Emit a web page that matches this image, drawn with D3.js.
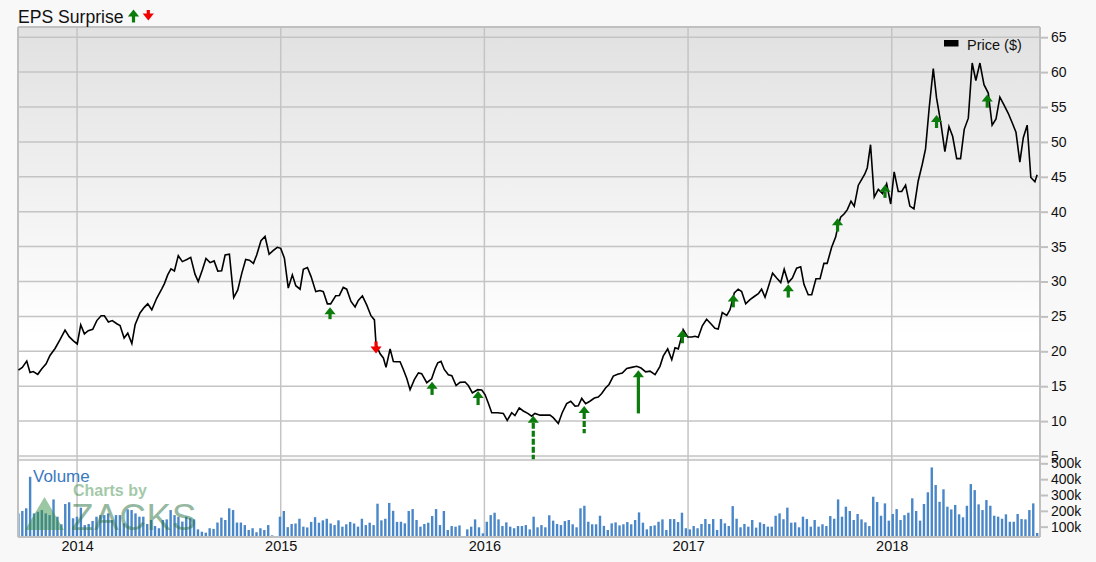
<!DOCTYPE html>
<html><head><meta charset="utf-8">
<script src="https://cdn.jsdelivr.net/npm/d3@7"></script>
<style>
body{margin:0;background:#f8f8f8;}
svg{display:block;font-family:"Liberation Sans",Arial,sans-serif;}
</style>
</head><body>
<svg id="chart" width="1096" height="562"></svg>
<script>
// ---------- DATA ----------
const priceDates = [2013.712,2013.731,2013.753,2013.769,2013.785,2013.807,2013.827,2013.848,2013.867,2013.892,2013.917,2013.941,2013.961,2013.982,2014.001,2014.018,2014.036,2014.055,2014.077,2014.097,2014.118,2014.134,2014.154,2014.173,2014.195,2014.211,2014.231,2014.249,2014.269,2014.285,2014.309,2014.330,2014.347,2014.367,2014.391,2014.416,2014.429,2014.445,2014.461,2014.478,2014.497,2014.517,2014.539,2014.558,2014.579,2014.595,2014.615,2014.633,2014.653,2014.673,2014.691,2014.710,2014.727,2014.748,2014.769,2014.789,2014.809,2014.828,2014.846,2014.866,2014.882,2014.903,2014.923,2014.943,2014.964,2014.983,2015.000,2015.018,2015.037,2015.057,2015.074,2015.095,2015.111,2015.131,2015.149,2015.172,2015.193,2015.209,2015.229,2015.245,2015.270,2015.288,2015.307,2015.324,2015.345,2015.365,2015.381,2015.401,2015.422,2015.443,2015.460,2015.468,2015.488,2015.504,2015.517,2015.537,2015.553,2015.565,2015.586,2015.602,2015.619,2015.635,2015.656,2015.676,2015.692,2015.717,2015.741,2015.758,2015.771,2015.787,2015.803,2015.823,2015.840,2015.861,2015.880,2015.905,2015.921,2015.941,2015.967,2015.987,2016.003,2016.019,2016.036,2016.065,2016.093,2016.112,2016.134,2016.150,2016.171,2016.191,2016.213,2016.232,2016.248,2016.273,2016.322,2016.338,2016.363,2016.382,2016.404,2016.424,2016.445,2016.461,2016.478,2016.497,2016.518,2016.540,2016.559,2016.576,2016.595,2016.612,2016.633,2016.654,2016.677,2016.699,2016.723,2016.748,2016.769,2016.792,2016.813,2016.838,2016.862,2016.878,2016.900,2016.920,2016.936,2016.952,2016.964,2016.976,2016.998,2017.018,2017.034,2017.050,2017.070,2017.091,2017.112,2017.132,2017.148,2017.168,2017.190,2017.206,2017.227,2017.246,2017.263,2017.283,2017.304,2017.325,2017.345,2017.361,2017.378,2017.394,2017.415,2017.435,2017.455,2017.472,2017.492,2017.512,2017.533,2017.553,2017.569,2017.590,2017.607,2017.628,2017.648,2017.667,2017.683,2017.705,2017.725,2017.734,2017.749,2017.767,2017.782,2017.800,2017.816,2017.836,2017.852,2017.868,2017.880,2017.896,2017.914,2017.934,2017.955,2017.975,2017.995,2018.012,2018.032,2018.049,2018.068,2018.089,2018.109,2018.130,2018.150,2018.166,2018.184,2018.204,2018.220,2018.242,2018.261,2018.281,2018.299,2018.319,2018.338,2018.356,2018.376,2018.395,2018.413,2018.433,2018.453,2018.474,2018.493,2018.512,2018.531,2018.551,2018.572,2018.592,2018.610,2018.629,2018.646,2018.665,2018.683,2018.703,2018.714];
const priceValues = [17.3,17.7,18.6,16.95,17.1,16.7,17.5,18.2,19.4,20.4,21.7,23.05,22.1,21.5,21.05,23.8,22.5,22.95,23.15,24.4,25.1,25.1,24.2,24.4,23.95,23.7,21.9,22.6,21.1,23.8,25.5,26.3,26.8,25.95,27.6,28.95,29.7,30.95,31.8,31.5,33.7,32.85,33.15,33.45,31.05,30.0,31.65,33.3,32.7,32.95,31.5,31.55,33.8,33.9,27.7,28.8,31.2,33.15,33.05,32.6,33.8,35.85,36.45,33.9,34.45,34.9,34.75,33.35,29.05,30.95,29.4,28.9,31.75,32.0,30.7,28.55,28.7,28.55,26.8,26.8,27.95,28.0,29.15,28.9,27.15,26.35,27.3,27.95,26.65,25.1,24.5,20.95,19.65,19.05,17.7,20.35,18.55,18.5,18.5,17.4,16.1,14.5,15.95,16.9,16.8,15.5,16.05,17.5,18.35,18.55,17.4,16.65,16.5,15.1,15.55,15.6,15.1,14.05,14.5,14.45,13.8,12.6,11.2,11.2,11.1,10.1,11.2,10.8,11.9,11.45,11.1,10.7,11.1,10.85,10.85,10.5,9.65,11.2,12.5,12.85,12.15,12.2,13.25,12.5,12.85,13.3,13.45,13.95,14.75,15.25,16.45,16.7,16.9,17.55,17.7,17.85,17.6,17.05,17.15,16.65,17.85,19.3,20.35,18.8,20.5,20.35,21.65,23.1,22.05,22.05,22.15,22.0,23.65,24.6,23.95,23.3,23.2,25.55,25.15,25.95,28.35,28.9,28.55,26.8,27.4,27.85,28.25,28.9,27.75,29.2,31.2,30.5,29.85,31.75,29.85,30.5,31.9,32.1,29.6,28.1,28.1,30.4,30.4,32.6,32.6,34.9,36.4,37.7,39.2,39.7,40.3,41.5,40.8,43.8,44.6,45.4,46.3,49.6,42.1,43.2,42.6,44.0,41.1,45.7,42.9,42.9,43.8,40.8,40.4,44.4,46.8,49.0,54.9,60.5,56.3,52.5,48.6,52.2,50.8,47.6,47.6,51.8,53.4,61.3,58.8,61.3,58.2,57.0,52.4,53.3,56.4,55.3,54.1,52.7,51.4,47.1,50.6,52.4,44.9,44.3,45.3];

const surpriseDates = [2015.242,2015.468,2015.743,2015.969,2016.240,2016.490,2016.756,2016.972,2017.222,2017.492,2017.734,2017.967,2018.220,2018.469];
const surpriseTips  = [26.3,19.7,15.65,14.3,10.75,12.15,17.3,23.05,28.15,29.6,39.05,43.85,53.85,56.8];
const surpriseTails = [24.6,21.4,13.75,12.3,4.55,8.25,11.1,21.15,26.3,27.7,37.15,41.9,51.95,54.9];
const surpriseKinds = ["beat","miss","beat","beat","beat","beat","beat","beat","beat","beat","beat","beat","beat","beat"];
const surpriseDashed = [false,false,false,false,true,true,false,false,false,false,false,true,true,false];

// weekly volume, first week 2013.712
const volumeStart = 2013.712;
const volumeValues = [
184000,199000,216000,415000,184000,194000,205000,184000,173000,272000,
163000,115000,243000,254000,153000,163000,220000,110000,117000,136000,
163000,173000,173000,184000,142000,173000,173000,121000,209000,205000,
184000,163000,163000,117000,142000,104000,90000,142000,146000,205000,
173000,163000,132000,163000,153000,146000,83000,68000,62000,90000,
86000,126000,157000,142000,216000,205000,126000,126000,110000,79000,
90000,65000,90000,79000,110000,45000,40000,163000,199000,97000,
117000,120000,150000,100000,95000,130000,160000,125000,140000,150000,
120000,110000,140000,100000,115000,130000,120000,100000,150000,110000,
125000,110000,245000,140000,150000,250000,200000,130000,131000,121000,
199000,211000,142000,100000,117000,125000,167000,211000,110000,199000,
79000,104000,100000,108000,41000,83000,100000,146000,96000,58000,
131000,173000,188000,146000,104000,127000,100000,90000,104000,104000,
110000,83000,163000,96000,110000,96000,172000,138000,117000,110000,
135000,142000,115000,96000,216000,232000,131000,115000,115000,169000,
105000,79000,121000,127000,108000,115000,129000,115000,142000,190000,
125000,83000,104000,108000,131000,146000,79000,148000,148000,129000,
188000,90000,83000,104000,90000,117000,148000,117000,148000,79000,
148000,121000,104000,230000,150000,96000,117000,100000,142000,94000,
127000,117000,100000,100000,169000,184000,147000,220000,125000,127000,
96000,163000,148000,100000,142000,100000,115000,104000,167000,150000,
272000,163000,226000,199000,142000,180000,146000,127000,104000,289000,
256000,169000,247000,138000,180000,211000,142000,173000,188000,279000,
199000,138000,243000,317000,474000,363000,257000,336000,226000,209000,
237000,178000,159000,232000,369000,331000,241000,205000,268000,232000,
169000,163000,150000,178000,131000,131000,180000,148000,146000,205000,
247000,60000];
const WEEK = 7 / 365.25;
const volumeDates = volumeValues.map((v,i)=>volumeStart + i*WEEK);

const yearTicks = [2014,2015,2016,2017,2018];
const priceTicks = [5,10,15,20,25,30,35,40,45,50,55,60,65];
const volumeTicks = [100000,200000,300000,400000,500000];
const volumeTickLabels = ["100k","200k","300k","400k","500k"];

// ---------- LAYOUT ----------
const L = 18, R = 1040, PT = 27, PB = 456, VT = 460, VB = 537;
const GRID = "#c4c4c4";
const svg = d3.select("#chart");

const x = d3.scaleLinear().domain([2013.710, 2018.728]).range([L, R]);
const yP = d3.scaleLinear().domain([5, 65]).range([PB, 37.2]);
const yV = d3.scaleLinear().domain([34700, 521000]).range([VB, VT]).clamp(true);

const defs = svg.append("defs");
const grad = defs.append("linearGradient").attr("id","bg").attr("x1",0).attr("y1",0).attr("x2",0).attr("y2",1);
grad.append("stop").attr("offset","0").attr("stop-color","#e1e1e1");
grad.append("stop").attr("offset","0.72").attr("stop-color","#ffffff");
grad.append("stop").attr("offset","1").attr("stop-color","#ffffff");

svg.append("rect").attr("x",L).attr("y",PT).attr("width",R-L).attr("height",PB-PT).attr("fill","url(#bg)");
svg.append("rect").attr("x",L).attr("y",VT).attr("width",R-L).attr("height",VB-VT).attr("fill","#ffffff");

// horizontal price grid
svg.append("g").selectAll("line").data(priceTicks).join("line")
  .attr("x1",L).attr("x2",R).attr("y1",d=>yP(d)).attr("y2",d=>yP(d))
  .attr("stroke",GRID).attr("stroke-width",1.5);

// vertical year grid
svg.append("g").selectAll("line").data(yearTicks).join("line")
  .attr("x1",d=>x(d)).attr("x2",d=>x(d)).attr("y1",PT).attr("y2",VB)
  .attr("stroke",GRID).attr("stroke-width",1.5);

// volume bars
svg.append("g").selectAll("rect").data(volumeValues).join("rect")
  .attr("x",(d,i)=>x(volumeDates[i])-1.2).attr("width",2.4)
  .attr("y",d=>yV(d)).attr("height",d=>VB-yV(d))
  .attr("fill","#4a87c9");

// frame
const frame = svg.append("g").attr("fill","none").attr("stroke","#c0c0c0").attr("stroke-width",2);
frame.append("line").attr("x1",L).attr("x2",R).attr("y1",PT).attr("y2",PT);
frame.append("line").attr("x1",L).attr("x2",L).attr("y1",PT).attr("y2",VB);
frame.append("line").attr("x1",R).attr("x2",R).attr("y1",PT).attr("y2",VB);
frame.append("line").attr("x1",L).attr("x2",R).attr("y1",VT).attr("y2",VT).attr("stroke-width",1.5);
frame.append("line").attr("x1",L).attr("x2",R).attr("y1",VB).attr("y2",VB);

// watermark
const wm = svg.append("g").attr("opacity",0.5);
wm.append("path").attr("d", d3.line()([[25,530],[44.5,497],[64,530]]) + "Z").attr("fill","#3a9048");
wm.append("text").attr("x",73).attr("y",496).attr("font-size",16).attr("font-weight","bold").attr("fill","#4a9456").text("Charts by");
wm.append("text").attr("x",71).attr("y",530).attr("font-size",37).attr("fill","#2d7445").attr("letter-spacing",0.5).text("ZACKS");

svg.append("text").attr("x",33).attr("y",482).attr("font-size",17).attr("fill","#3a78bf").text("Volume");

// price line
const pts = priceDates.map((d,i)=>[d, priceValues[i]]);
svg.append("path").datum(pts)
  .attr("d", d3.line().x(d=>x(d[0])).y(d=>yP(d[1])))
  .attr("fill","none").attr("stroke","#000").attr("stroke-width",1.6).attr("stroke-linejoin","miter");

// surprise arrows
function arrow(g, cx, tipY, tailY, color, dashed){
  const dir = tailY > tipY ? 1 : -1;
  const headH = 7, half = 5.6;
  const baseY = tipY + dir*headH;
  const shaft = g.append("line").attr("x1",cx).attr("x2",cx).attr("y1",baseY-dir*0.5).attr("y2",tailY)
      .attr("stroke",color).attr("stroke-width",3.2);
  if (dashed) shaft.attr("y1",baseY).attr("stroke-dasharray","6,2");
  g.append("path").attr("d", d3.line()([[cx,tipY],[cx+half,baseY],[cx-half,baseY]])+"Z").attr("fill",color);
}
const ag = svg.append("g");
surpriseDates.forEach((d,i)=>{
  const col = surpriseKinds[i]==="beat" ? "#0b7b0b" : "#f20000";
  arrow(ag, x(d), yP(surpriseTips[i]), yP(surpriseTails[i]), col, surpriseDashed[i]);
});

// axes
const axP = svg.append("g").attr("transform",`translate(${R},0)`)
  .call(d3.axisRight(yP).tickValues(priceTicks).tickSize(8).tickPadding(3));
const axV = svg.append("g").attr("transform",`translate(${R},0)`)
  .call(d3.axisRight(yV).tickValues(volumeTicks).tickSize(8).tickPadding(3).tickFormat((d,i)=>volumeTickLabels[i]));
const axX = svg.append("g").attr("transform",`translate(0,${VB})`)
  .call(d3.axisBottom(x).tickValues(yearTicks).tickSize(0).tickPadding(4).tickFormat(d3.format("d")));
[axP,axV,axX].forEach(a=>{
  a.select(".domain").remove();
  a.selectAll(".tick line").attr("stroke","#c0c0c0").attr("stroke-width",2);
  a.selectAll("text").attr("fill","#111").attr("font-size",14).attr("font-family","'Liberation Sans',Arial,sans-serif");
});
axX.selectAll("text").attr("font-size",14.5);

// legend
svg.append("rect").attr("x",944).attr("y",40).attr("width",14.5).attr("height",6.5).attr("fill","#000");
svg.append("text").attr("x",967).attr("y",49.5).attr("font-size",14.5).attr("fill","#111").text("Price ($)");

// title
svg.append("text").attr("x",18).attr("y",22.5).attr("font-size",17.6).attr("fill","#111").text("EPS Surprise");
arrow(svg.append("g"), 133.5, 9.5, 22.5, "#0b7b0b", false);
arrow(svg.append("g"), 148.3, 20.5, 10, "#f20000", false);
</script>
</body></html>
